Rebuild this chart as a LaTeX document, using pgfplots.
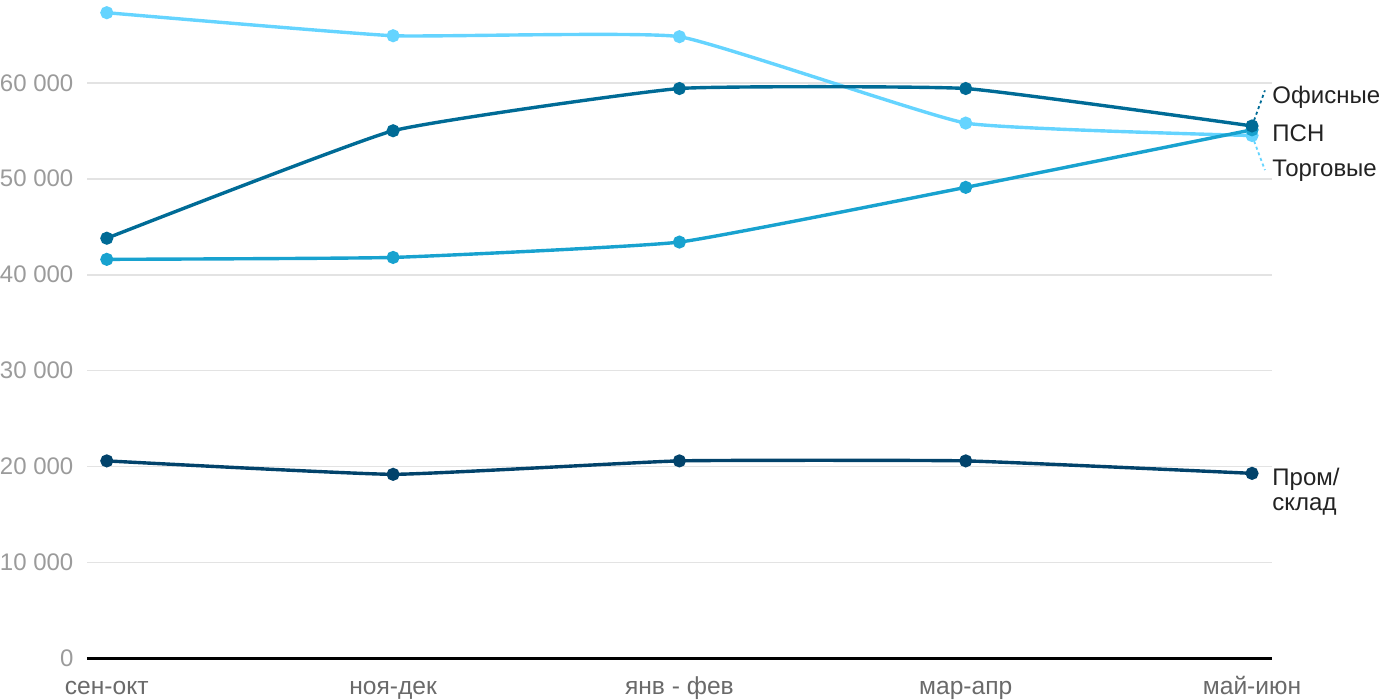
\documentclass[border=0pt]{standalone}
\usepackage{fontspec}
\setmainfont{Liberation Sans}
\usepackage{pgfplots}
\pgfplotsset{compat=1.18}
\definecolor{cTorg}{HTML}{65D4FF}
\definecolor{cOfis}{HTML}{006B96}
\definecolor{cPsn}{HTML}{18A2CF}
\definecolor{cProm}{HTML}{02436B}
\definecolor{cGrid}{HTML}{E3E3E3}
\definecolor{cYtick}{HTML}{9B9B9B}
\definecolor{cXtick}{HTML}{6A6A6A}
\definecolor{cLab}{HTML}{222222}

\begin{document}
\begin{tikzpicture}
\begin{axis}[
  scale only axis, width=593pt, height=326.5pt,
  xmin=-0.07, xmax=4.07, ymin=0, ymax=68000,
  axis x line*=bottom, axis y line*=left,
  x axis line style={black, line width=1.2pt, -},
  y axis line style={draw=none},
  xtick={0,1,2,3,4},
  xticklabels={сен-окт, ноя-дек, янв - фев, мар-апр, май-июн},
  ytick={0,10000,20000,30000,40000,50000,60000},
  ymajorgrids, grid style={cGrid, line width=0.8pt},
  major tick length=0pt,
  scaled y ticks=false,
  yticklabel style={text=cYtick, font=\fontsize{12}{14}\selectfont, inner sep=0pt, xshift=-6.5pt},
  xticklabel style={text=cXtick, font=\fontsize{12.3}{14}\selectfont, inner sep=0pt, text height=9pt, text depth=2pt, yshift=-9pt},
  /pgf/number format/.cd, 1000 sep={\ }, assume math mode=true,
  /pgfplots/.cd,
  clip=false,
  every axis plot/.append style={line width=1.7pt, smooth, tension=0.22, mark=*, mark size=2.4pt, mark options={solid}},
]
% Пром/склад
\addplot[cProm, mark options={fill=cProm}] coordinates {(0,20600) (1,19200) (2,20600) (3,20600) (4,19300)};
% Торговые
\addplot[cTorg, mark options={fill=cTorg}] coordinates {(0,67300) (1,64900) (2,64800) (3,55800) (4,54500)};
% ПСН
\addplot[cPsn, mark options={fill=cPsn}] coordinates {(0,41600) (1,41800) (2,43400) (3,49100) (4,55100)};
% Офисные
\addplot[cOfis, mark options={fill=cOfis}] coordinates {(0,43800) (1,55000) (2,59400) (3,59400) (4,55500)};

\draw[cOfis, line width=0.9pt, dash pattern=on 1.5pt off 1.5pt] (axis cs:4,55500) -- (axis cs:4.045,59200);
\draw[cTorg, line width=0.9pt, dash pattern=on 1.5pt off 1.5pt] (axis cs:4,54500) -- (axis cs:4.045,50900);

\node[anchor=west, text=cLab, font=\fontsize{12}{14}\selectfont, inner sep=0pt] at (axis cs:4.07,58440) {Офисные};
\node[anchor=west, text=cLab, font=\fontsize{12}{14}\selectfont, inner sep=0pt] at (axis cs:4.07,54790) {ПСН};
\node[anchor=west, text=cLab, font=\fontsize{12}{14}\selectfont, inner sep=0pt] at (axis cs:4.07,50830) {Торговые};
\node[anchor=west, text=cLab, font=\fontsize{12}{12.5}\selectfont, inner sep=0pt, align=left] at (axis cs:4.07,17350) {Пром/\\склад};
\end{axis}
\path ([xshift=-43pt,yshift=-20.5pt]current axis.south west) rectangle ([xshift=64pt,yshift=3pt]current axis.north east);
\end{tikzpicture}
\end{document}
